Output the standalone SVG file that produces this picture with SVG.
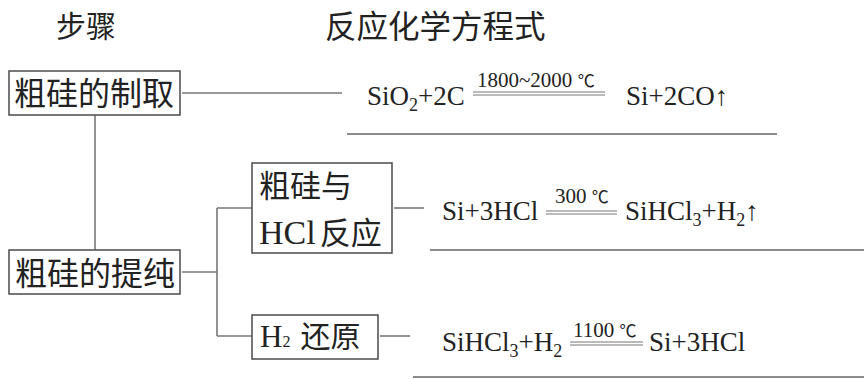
<svg xmlns="http://www.w3.org/2000/svg" width="864" height="379" viewBox="0 0 864 379">
<style>
.cjk{font-family:"Noto Sans CJK SC","Noto Sans CJK JP",sans-serif;fill:#222;}
.ser{font-family:"Liberation Serif","Noto Sans CJK SC",serif;fill:#222;}
.eq{font-family:"Liberation Serif","Noto Sans CJK SC",serif;font-size:27px;fill:#222;}
.lbl{font-family:"Liberation Serif","Noto Sans CJK SC",serif;font-size:21px;fill:#222;}
.box{fill:#fff;stroke:#555;stroke-width:1.6;}
.conn{stroke:#777;stroke-width:1.6;fill:none;}
.dbl{stroke:#777;stroke-width:1.2;fill:none;}
.ul{stroke:#666;stroke-width:1.6;fill:none;}
</style>
<rect width="864" height="379" fill="#fff"/>
<g id="headers">
<text class="cjk" x="56" y="37" font-size="30">步骤</text>
<text class="cjk" x="325" y="38" font-size="31.5">反应化学方程式</text>
</g>
<g id="connectors">
<line class="conn" x1="182" y1="93" x2="342" y2="93"/>
<line class="conn" x1="95" y1="115" x2="95" y2="250"/>
<line class="conn" x1="182" y1="272" x2="217" y2="272"/>
<line class="conn" x1="217" y1="208" x2="217" y2="336"/>
<line class="conn" x1="217" y1="208" x2="252" y2="208"/>
<line class="conn" x1="217" y1="336" x2="252" y2="336"/>
<line class="conn" x1="394" y1="208" x2="424" y2="208"/>
<line class="conn" x1="380" y1="336" x2="410" y2="336"/>
</g>
<g id="node-zhiqu">
<rect class="box" x="9" y="71" width="171" height="44"/>
<text class="cjk" x="14" y="105" font-size="32">粗硅的制取</text>
</g>
<g id="node-tichun">
<rect class="box" x="9" y="250" width="171" height="44"/>
<text class="cjk" x="15" y="285" font-size="32">粗硅的提纯</text>
</g>
<g id="node-hcl">
<rect class="box" x="252" y="163" width="140" height="90"/>
<text class="cjk" x="259" y="197" font-size="31">粗硅与</text>
<text x="259" y="244"><tspan class="ser" style="font-size:34px">HCl</tspan><tspan class="cjk" style="font-size:31px" dx="4">反应</tspan></text>
</g>
<g id="node-h2">
<rect class="box" x="252" y="315" width="126" height="44"/>
<text x="260" y="347"><tspan class="ser" style="font-size:31px">H</tspan><tspan class="ser" style="font-size:16px">2</tspan><tspan class="cjk" style="font-size:30px" dx="10">还原</tspan></text>
</g>
<g id="equations">
<text class="eq" x="367" y="105">SiO<tspan font-size="18" dy="6">2</tspan><tspan dy="-6">+2C</tspan></text>
<text class="lbl" x="477" y="87">1800~2000 <tspan font-size="17">℃</tspan></text>
<line class="dbl" x1="473" y1="92" x2="605" y2="92"/>
<line class="dbl" x1="473" y1="95" x2="605" y2="95"/>
<text class="eq" x="626" y="105">Si+2CO↑</text>
<line class="ul" x1="347" y1="134" x2="777" y2="134"/>

<text class="eq" x="442" y="220">Si+3HCl</text>
<text class="lbl" x="555" y="203">300 <tspan font-size="17">℃</tspan></text>
<line class="dbl" x1="546" y1="211" x2="617" y2="211"/>
<line class="dbl" x1="546" y1="214" x2="617" y2="214"/>
<text class="eq" x="625" y="220">SiHCl<tspan font-size="18" dy="6">3</tspan><tspan dy="-6">+H</tspan><tspan font-size="18" dy="6">2</tspan><tspan dy="-6">↑</tspan></text>
<line class="ul" x1="430" y1="250" x2="864" y2="250"/>

<text class="eq" x="442" y="351">SiHCl<tspan font-size="18" dy="6">3</tspan><tspan dy="-6">+H</tspan><tspan font-size="18" dy="6">2</tspan></text>
<text class="lbl" x="573" y="337">1100 <tspan font-size="17">℃</tspan></text>
<line class="dbl" x1="570" y1="342" x2="643" y2="342"/>
<line class="dbl" x1="570" y1="345" x2="643" y2="345"/>
<text class="eq" x="649" y="351">Si+3HCl</text>
<line class="ul" x1="413" y1="377" x2="864" y2="377"/>
</g>
</svg>
